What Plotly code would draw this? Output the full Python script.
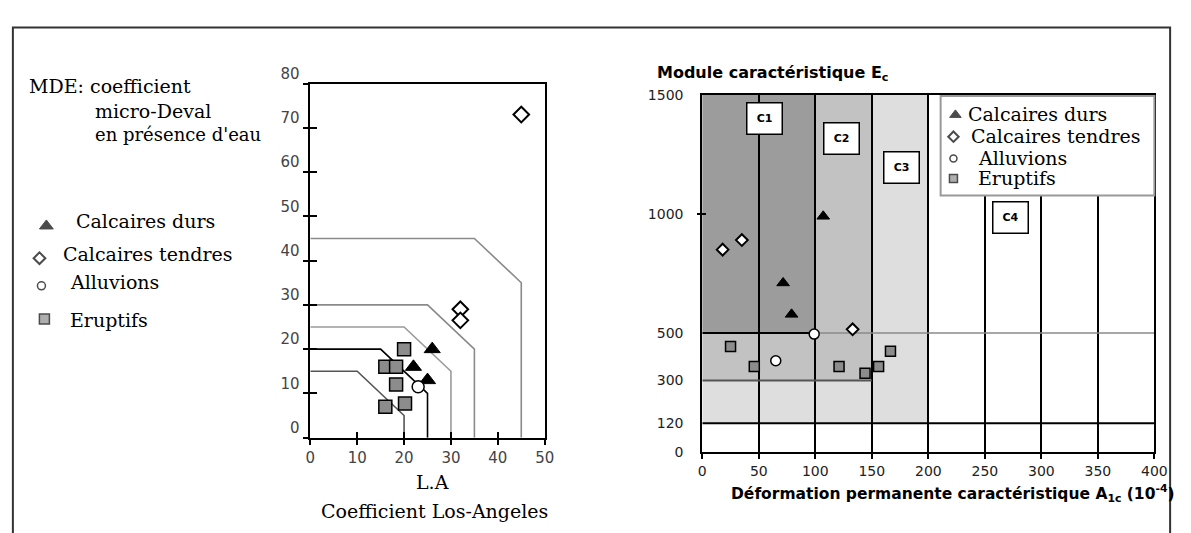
import plotly.graph_objects as go

W, H = 1191, 533

# ---------------- Left chart data (L.A vs MDE) ----------------
la_durs = [26, 22, 25]
mde_durs = [20, 16, 13]
la_tendres = [45, 32, 32]
mde_tendres = [73, 29, 26.5]
la_alluv = [23]
mde_alluv = [11.5]
la_erupt = [20, 16, 18.3, 18.3, 16, 20.2]
mde_erupt = [20, 16, 16, 12, 7, 7.7]

# category limits: LA max, MDE max, LA+MDE max
cat_la = [20, 25, 30, 35, 45]
cat_mde = [15, 20, 25, 30, 45]
cat_sum = [25, 35, 45, 55, 80]
cat_colors = ['#555555', '#000000', '#9a9a9a', '#8a8a8a', '#8a8a8a']

left_xticks = [0, 10, 20, 30, 40, 50]
left_yticks = [0, 10, 20, 30, 40, 50, 60, 70, 80]

# ---------------- Right chart data (A1c vs Ec) ----------------
a_durs = [107, 71.5, 79]
e_durs = [990, 710, 578]
a_tendres = [18, 35, 133]
e_tendres = [850, 890, 515]
a_alluv = [65, 99]
e_alluv = [383, 495]
a_erupt = [25, 46, 121, 144, 156, 166.5]
e_erupt = [443, 359, 359, 331, 359, 423]

class_a = [100, 150, 200]      # C1 / C2 / C3 limits on A1c
class_e = [500, 300, 120]      # C1 / C2 / C3 limits on Ec
class_fill = ['#9c9c9c', '#c2c2c2', '#dedede']
class_labels = ['C1', 'C2', 'C3', 'C4']
class_label_x = [55, 123, 176, 273]
class_label_y = [1400, 1316, 1197, 987]

right_xticks = [0, 50, 100, 150, 200, 250, 300, 350, 400]
right_yticks = [0, 120, 300, 500, 1000, 1500]

legend_names = ['Calcaires durs', 'Calcaires tendres', 'Alluvions', 'Eruptifs']


def px(x):
    return x / W


def py(y):
    return 1 - y / H


SERIF = 'DejaVu Serif'
SANS = 'DejaVu Sans'

fig = go.Figure()

# threshold polylines of the categories (left chart)
for la, mde, s, col in zip(cat_la, cat_mde, cat_sum, cat_colors):
    fig.add_trace(go.Scatter(
        x=[0, s - mde, la, la], y=[mde, mde, s - la, 0],
        mode='lines', line=dict(color=col, width=1.6),
        xaxis='x', yaxis='y', showlegend=False, hoverinfo='skip'))

sym_style = {
    'durs': dict(symbol='triangle-up', color='black', line=dict(color='black', width=1)),
    'tendres': dict(symbol='diamond', color='white', line=dict(color='black', width=2)),
    'alluv': dict(symbol='circle', color='white', line=dict(color='black', width=1.5)),
    'erupt': dict(symbol='square', color='#8c8c8c', line=dict(color='black', width=1.5)),
}

left_sets = [('durs', la_durs, mde_durs, 14), ('tendres', la_tendres, mde_tendres, 12),
             ('alluv', la_alluv, mde_alluv, 12), ('erupt', la_erupt, mde_erupt, 13)]
for key, xs, ys, sz in left_sets:
    fig.add_trace(go.Scatter(x=xs, y=ys, mode='markers', xaxis='x', yaxis='y',
                             marker=dict(size=sz, **sym_style[key]), showlegend=False,
                             cliponaxis=False))

right_sets = [('durs', a_durs, e_durs, 11), ('tendres', a_tendres, e_tendres, 9),
              ('alluv', a_alluv, e_alluv, 10), ('erupt', a_erupt, e_erupt, 10)]
for key, xs, ys, sz in right_sets:
    fig.add_trace(go.Scatter(x=xs, y=ys, mode='markers', xaxis='x2', yaxis='y2',
                             marker=dict(size=sz, **sym_style[key]), showlegend=False,
                             cliponaxis=False))

# legend symbols placed on an overlay axis measured in page pixels
left_leg_sym = [(42, 218, 12), (35, 252, 9), (37, 281, 8), (40, 316, 10)]
right_leg_sym = [(965, 101, 10), (963, 124, 8), (963, 147, 7), (963, 168, 8)]
for (key, *_), (lx, ly, ls), (rx, ry, rs) in zip(left_sets, left_leg_sym, right_leg_sym):
    st = dict(sym_style[key])
    fig.add_trace(go.Scatter(x=[lx, rx], y=[ly, ry], mode='markers', xaxis='x3', yaxis='y3',
                             marker=dict(size=[ls, rs], **st), showlegend=False,
                             cliponaxis=False))

# empty traces that activate the overlay tick axes (ticks crossing the axis lines)
for xa, ya in [('x4', 'y'), ('x', 'y4'), ('x2', 'y5'), ('x2', 'y6')]:
    fig.add_trace(go.Scatter(x=[None], y=[None], xaxis=xa, yaxis=ya, showlegend=False,
                             hoverinfo='skip'))

shapes = []
shapes.append(dict(type='rect', xref='x2', yref='y2', x0=0, x1=class_a[2], y0=class_e[2], y1=1500,
                   fillcolor=class_fill[2], line=dict(width=0), layer='below'))
shapes.append(dict(type='rect', xref='x2', yref='y2', x0=0, x1=class_a[1], y0=class_e[1], y1=1500,
                   fillcolor=class_fill[1], line=dict(width=0), layer='below'))
shapes.append(dict(type='rect', xref='x2', yref='y2', x0=0, x1=class_a[0], y0=class_e[0], y1=1500,
                   fillcolor=class_fill[0], line=dict(width=0), layer='below'))
shapes.append(dict(type='line', xref='x2', yref='y2', x0=0, x1=400, y0=class_e[2], y1=class_e[2],
                   line=dict(color='black', width=2), layer='between'))
shapes.append(dict(type='line', xref='x2', yref='y2', x0=0, x1=class_a[1], y0=class_e[1], y1=class_e[1],
                   line=dict(color='#555555', width=2), layer='between'))
shapes.append(dict(type='line', xref='x2', yref='y2', x0=class_a[0], x1=400, y0=class_e[0], y1=class_e[0],
                   line=dict(color='#8a8a8a', width=1.5), layer='between'))
shapes.append(dict(type='line', xref='x2', yref='y2', x0=0, x1=class_a[0], y0=class_e[0], y1=class_e[0],
                   line=dict(color='black', width=2), layer='between'))
# right legend box (drawn on the pixel overlay so it covers the grid)
shapes.append(dict(type='rect', xref='x3', yref='y3', x0=950, x1=1167, y0=81, y1=186,
                   fillcolor='white', line=dict(color='#999999', width=2), layer='below'))
# outer frame of the picture
shapes.append(dict(type='rect', xref='paper', yref='paper', x0=px(8), x1=px(1183), y0=-0.1, y1=py(9),
                   line=dict(color='#333333', width=2), layer='above'))

annotations = []
for lab, cx, cy in zip(class_labels, class_label_x, class_label_y):
    annotations.append(dict(xref='x2', yref='y2', x=cx, y=cy, text='<b>%s</b>' % lab,
                            showarrow=False, font=dict(family=SANS, size=11, color='black'),
                            bgcolor='white', bordercolor='black', borderwidth=1.5,
                            width=32, height=28, borderpad=1))


def txt(x, y, s, size=19, family=SERIF, anchor='left', bold=False):
    annotations.append(dict(xref='paper', yref='paper', x=px(x), y=py(y),
                            text=('<b>%s</b>' % s) if bold else s, showarrow=False,
                            xanchor=anchor, yanchor='middle',
                            font=dict(family=family, size=size, color='black')))


txt(22, 71, 'MDE: coefficient')
txt(89, 97, 'micro-Deval')
txt(89, 122, "en présence d'eau", size=18)
left_leg_txt = [(70, 213), (57, 248), (64, 277), (64, 317)]
right_leg_txt = [(976, 100), (979, 123), (986, 146), (986, 167)]
for name, (lx, ly), (rx, ry) in zip(legend_names, left_leg_txt, right_leg_txt):
    txt(lx, ly, name)
    txt(rx, ry, name)
txt(434, 488, 'L.A', anchor='center')
txt(436, 518, 'Coefficient Los-Angeles', anchor='center')
txt(660, 57, 'Module caractéristique E<sub>c</sub>', size=16, family=SANS, bold=True)
txt(735, 500, 'Déformation permanente caractéristique A<sub>1c</sub> (10<sup>-4</sup>)',
    size=15.5, family=SANS, bold=True)

left_tickfont = dict(family=SANS, size=15, color='#444444')
right_tickfont = dict(family=SANS, size=14, color='#222222')
L_X = [px(310), px(548)]
L_Y = [py(441), py(68)]
R_X = [px(708), px(1167)]
R_Y = [py(456), py(80)]

fig.update_layout(
    width=W, height=H,
    margin=dict(l=0, r=0, t=0, b=0),
    paper_bgcolor='white', plot_bgcolor='rgba(0,0,0,0)',
    showlegend=False,
    xaxis=dict(domain=L_X, range=[0, 50], tickvals=left_xticks,
               showgrid=False, zeroline=False, showline=True, mirror=True,
               linecolor='black', linewidth=1.5, ticks='outside', ticklen=6,
               tickcolor='black', tickwidth=1.5, tickfont=left_tickfont, anchor='y'),
    yaxis=dict(domain=L_Y, range=[0, 80], tickvals=left_yticks,
               showgrid=False, zeroline=False, showline=True, mirror=True,
               linecolor='black', linewidth=1.5, ticks='outside', ticklen=6,
               tickcolor='black', tickwidth=1.5, tickfont=left_tickfont, anchor='x',
               ticklabelshift=-10),
    xaxis4=dict(overlaying='x', anchor='y', range=[0, 50], tickvals=left_xticks,
                showgrid=False, zeroline=False, showline=False, showticklabels=False,
                ticks='inside', ticklen=6, tickcolor='black', tickwidth=1.5),
    yaxis4=dict(overlaying='y', anchor='x', range=[0, 80], tickvals=left_yticks[1:-1],
                showgrid=False, zeroline=False, showline=False, showticklabels=False,
                ticks='inside', ticklen=7, tickcolor='black', tickwidth=1.5),
    xaxis2=dict(domain=R_X, range=[0, 400], tickvals=right_xticks,
                showgrid=True, gridcolor='black', gridwidth=1.5, zeroline=False,
                showline=True, mirror=True, linecolor='black', linewidth=2,
                ticks='outside', ticklen=5, tickcolor='black', tickwidth=1.5,
                tickfont=right_tickfont, anchor='y2'),
    yaxis2=dict(domain=R_Y, range=[0, 1500], tickvals=right_yticks,
                showgrid=False, zeroline=False, showline=True, mirror=True,
                linecolor='black', linewidth=2, ticks='',
                tickfont=right_tickfont, anchor='x2', ticklabelstandoff=14),
    yaxis5=dict(overlaying='y2', anchor='x2', range=[0, 1500], tickvals=[1000],
                showgrid=False, zeroline=False, showline=False, showticklabels=False,
                ticks='outside', ticklen=4, tickcolor='black', tickwidth=1.5),
    yaxis6=dict(overlaying='y2', anchor='x2', range=[0, 1500], tickvals=[1000],
                showgrid=False, zeroline=False, showline=False, showticklabels=False,
                ticks='inside', ticklen=4, tickcolor='black', tickwidth=1.5),
    xaxis3=dict(domain=[0, 1], range=[0, W], visible=False, anchor='y3'),
    yaxis3=dict(domain=[0, 1], range=[H, 0], visible=False, anchor='x3'),
    shapes=shapes,
    annotations=annotations,
)

fig.write_html('out.html')
